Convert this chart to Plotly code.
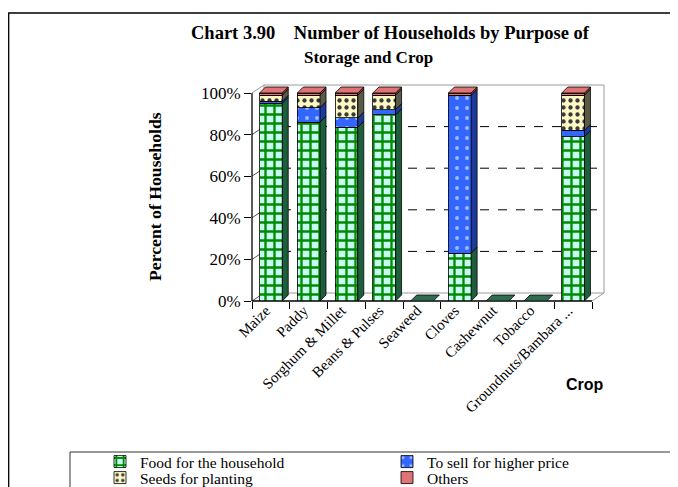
import plotly.graph_objects as go

# ---------------- data ----------------
crops = ["Maize", "Paddy", "Sorghum & Millet", "Beans & Pulses", "Seaweed",
         "Cloves", "Cashewnut", "Tobacco", "Groundnuts/Bambara ..."]
food = [95.0, 86.0, 83.5, 89.5, 0, 23.0, 0, 0, 79.0]
sell = [1.0, 7.0, 4.5, 2.5, 0, 76.0, 0, 0, 3.0]
seeds = [3.0, 6.0, 11.0, 7.0, 0, 0, 0, 0, 17.0]
others = [1.0, 1.0, 1.0, 1.0, 0, 1.0, 0, 0, 1.0]
y_ticks = [0, 0.2, 0.4, 0.6, 0.8, 1.0]

series = [
    ("Food for the household", food, dict(bg="#c6fbf2", fg="#008a00", shape="+", size=9, sol=0.45), "#1d5e3c", "legend"),
    ("To sell for higher price", sell, dict(bg="#3366ff", fg="#9dbbff", shape=".", size=10, sol=0.12), "#1c3a9a", "legend"),
    ("Seeds for planting", seeds, dict(bg="#fdf8c4", fg="#3a3a3a", shape=".", size=7, sol=0.3), "#5a5a46", "legend2"),
    ("Others", others, dict(bg="#e07474", fg="#e07474", shape="", size=8, sol=0.3), "#9a4444", "legend2"),
]

# ---------------- geometry helpers (screen pixel targets) ----------------
OFF = 8                      # page body margin
WS, HS = 678, 487            # window size
W, H = WS - OFF, HS - OFF    # figure size
PX_L, PX_R, PX_T, PX_B = 252, 604, 83, 301
n = len(crops)
cat_px = (592 - PX_L) / n
x_lo = -0.5
x_hi = x_lo + (PX_R - PX_L) / cat_px
y_unit = 208.0
y_hi = (PX_B - PX_T) / y_unit

wdx, wdy = 12 / cat_px, 8 / y_unit      # back wall depth
bdx, bdy = 6 / cat_px, 6 / y_unit       # bar depth
bw = 0.6


def dx2p(x):
    return (x - x_lo) / (x_hi - x_lo)


def dy2p(y):
    return y / y_hi


def px2x(p):
    return (p - PX_L) / (PX_R - PX_L)


def px2y(p):
    return (PX_B - p) / (PX_B - PX_T)


fig = go.Figure()
idx = list(range(n))
for name, vals, pat, side, leg in series:
    fig.add_trace(go.Bar(
        x=idx, y=[v / 100 for v in vals], name=name, width=bw, legend=leg,
        marker=dict(color=pat["bg"], line=dict(color="black", width=0.8),
                    pattern=dict(shape=pat["shape"], fgcolor=pat["fg"], bgcolor=pat["bg"],
                                 size=pat["size"], solidity=pat["sol"], fillmode="replace")),
    ))

shapes = []
# back wall
shapes.append(dict(type="rect", xref="paper", yref="paper",
                   x0=dx2p(-0.5 + wdx), x1=dx2p(n - 0.5 + wdx), y0=dy2p(wdy), y1=dy2p(1 + wdy),
                   line=dict(color="#9a9a9a", width=1), layer="below"))
for v in y_ticks[1:-1]:
    shapes.append(dict(type="line", xref="paper", yref="paper",
                       x0=dx2p(-0.5 + wdx), x1=dx2p(n - 0.5 + wdx), y0=dy2p(v + wdy), y1=dy2p(v + wdy),
                       line=dict(color="black", width=1, dash="dash"), layer="below"))
for v in y_ticks:
    shapes.append(dict(type="line", xref="paper", yref="paper",
                       x0=dx2p(-0.5), x1=dx2p(-0.5 + wdx), y0=dy2p(v), y1=dy2p(v + wdy),
                       line=dict(color="#555" if v < 1 else "#9a9a9a", width=1), layer="below"))
shapes.append(dict(type="line", xref="paper", yref="paper",
                   x0=dx2p(n - 0.5), x1=dx2p(n - 0.5 + wdx), y0=dy2p(0), y1=dy2p(wdy),
                   line=dict(color="#9a9a9a", width=1), layer="below"))
# axis lines
shapes.append(dict(type="line", xref="paper", yref="paper",
                   x0=dx2p(-0.5), x1=dx2p(n - 0.5), y0=0, y1=0,
                   line=dict(color="black", width=1.3)))
shapes.append(dict(type="line", xref="paper", yref="paper",
                   x0=0, x1=0, y0=0, y1=dy2p(1),
                   line=dict(color="black", width=1.3)))

# 3D sides and tops of bars
for i in idx:
    bottom = 0.0
    top_color = None
    for name, vals, pat, side, leg in series:
        v = vals[i] / 100
        if v > 0:
            t = bottom + v
            xr = i + bw / 2
            shapes.append(dict(type="path", xref="x", yref="y",
                               path=f"M {xr},{bottom} L {xr + bdx},{bottom + bdy} L {xr + bdx},{t + bdy} L {xr},{t} Z",
                               fillcolor=side, line=dict(color="black", width=0.8)))
            bottom = t
            top_color = pat["bg"]
    xl, xr = i - bw / 2, i + bw / 2
    fc = top_color if top_color else "#2f6b4f"
    shapes.append(dict(type="path", xref="x", yref="y",
                       path=f"M {xl},{bottom} L {xl + bdx},{bottom + bdy} L {xr + bdx},{bottom + bdy} L {xr},{bottom} Z",
                       fillcolor=fc, line=dict(color="black", width=0.8)))

# outer frame and legend box
shapes.append(dict(type="rect", xref="paper", yref="paper",
                   x0=px2x(OFF + 0.7), x1=px2x(700), y0=px2y(13), y1=px2y(520),
                   line=dict(color="black", width=1.3)))
shapes.append(dict(type="rect", xref="paper", yref="paper",
                   x0=px2x(70), x1=px2x(700), y0=px2y(452), y1=px2y(520),
                   line=dict(color="#333", width=1)))

serif = "Liberation Serif, Times New Roman, serif"
NB = "\u00a0"
annotations = [
    dict(text=f"<b>Chart 3.90{NB*4}Number of Households by Purpose of</b>", xref="paper", yref="paper",
         x=px2x(390), y=px2y(33), showarrow=False, font=dict(family=serif, size=18.5, color="black"),
         xanchor="center", yanchor="middle"),
    dict(text="<b>Storage and Crop</b>", xref="paper", yref="paper",
         x=px2x(368), y=px2y(57), showarrow=False, font=dict(family=serif, size=17, color="black"),
         xanchor="center", yanchor="middle"),
    dict(text="<b>Percent of Households</b>", xref="paper", yref="paper",
         x=px2x(155), y=px2y(197), showarrow=False, textangle=-90,
         font=dict(family=serif, size=17.7, color="black"), xanchor="center", yanchor="middle"),
    dict(text="<b>Crop</b>", xref="paper", yref="paper",
         x=px2x(585), y=px2y(384), showarrow=False,
         font=dict(family="Liberation Sans, Arial, sans-serif", size=16, color="black"),
         xanchor="center", yanchor="middle"),
]

leg_common = dict(orientation="h", xanchor="left", yanchor="middle",
                  entrywidth=242, entrywidthmode="pixels", traceorder="normal",
                  font=dict(family=serif, size=15.5, color="black"), bgcolor="rgba(0,0,0,0)",
                  itemclick=False, borderwidth=0)

fig.update_layout(
    width=W, height=H,
    margin=dict(l=PX_L - OFF, r=W - (PX_R - OFF), t=PX_T - OFF, b=H - (PX_B - OFF), pad=0, autoexpand=False),
    paper_bgcolor="white", plot_bgcolor="white",
    barmode="stack",
    showlegend=True,
    legend=dict(x=px2x(100), y=px2y(462), **leg_common),
    legend2=dict(x=px2x(100), y=px2y(478), **leg_common),
    xaxis=dict(range=[x_lo, x_hi], tickmode="array", tickvals=idx, ticktext=crops,
               ticks="", tickangle=-45, showgrid=False, zeroline=False, showline=False,
               ticklabelshift=-5, ticklabelstandoff=-3,
               tickfont=dict(family=serif, size=15, color="black"), automargin=False,
               minor=dict(tickmode="array", tickvals=[i - 0.5 for i in range(n + 1)],
                          ticks="outside", ticklen=7, tickcolor="black", tickwidth=1, showgrid=False)),
    yaxis=dict(range=[0, y_hi], tickmode="array", tickvals=y_ticks, tickformat=".0%",
               ticks="outside", ticklen=7, tickcolor="black", showgrid=False, zeroline=False,
               showline=False, tickfont=dict(family=serif, size=17, color="black"), automargin=False),
    shapes=shapes,
    annotations=annotations,
)

fig.write_html("out.html")
